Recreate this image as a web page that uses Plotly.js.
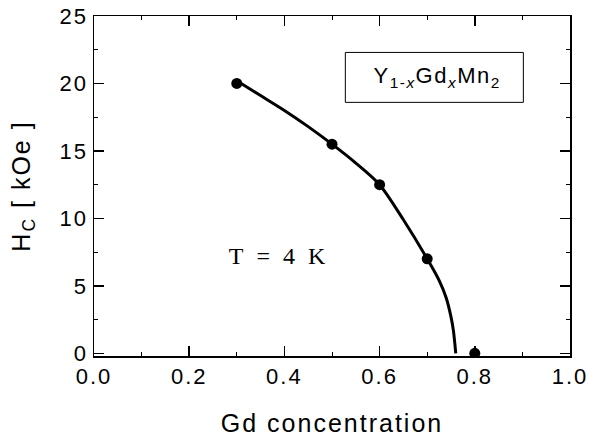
<!DOCTYPE html>
<html>
<head>
<meta charset="utf-8">
<script src="https://cdn.plot.ly/plotly-3.0.1.min.js"></script>
<style>
  html, body { margin: 0; padding: 0; background: #fff; }
  #chart { width: 589px; height: 439px; }
  .xtick text, .ytick text { letter-spacing: 2px; }
  .xtitle, .ytitle { letter-spacing: 2px; }
  .annotation[data-index="0"] .annotation-text { letter-spacing: 1.5px; }
  .annotation[data-index="1"] .annotation-text { letter-spacing: 3.5px; }
</style>
</head>
<body>
<div id="chart"></div>
<script>
// Measured coercive field of Y(1-x)Gd(x)Mn2 at 4 K
const gdConc = [0.3, 0.5, 0.6, 0.7, 0.8];
const hc = [20.0, 15.5, 12.5, 7.0, 0.0];

// Guide curve through the measurements, ending at the critical concentration
const fitConc = [0.30, 0.35, 0.40, 0.45, 0.50, 0.55, 0.60, 0.65, 0.70, 0.725, 0.74, 0.75, 0.755, 0.76];
const fitHc   = [20.2, 19.1, 18.0, 16.8, 15.5, 14.1, 12.5, 9.9, 7.0, 5.4, 4.1, 2.7, 1.7, 0.0];

const xTicks = [0.0, 0.2, 0.4, 0.6, 0.8, 1.0];
const xTickText = ['0.0', '0.2', '0.4', '0.6', '0.8', '1.0'];
const yTicks = [0, 5, 10, 15, 20, 25];

const traces = [
  {
    x: fitConc, y: fitHc, type: 'scatter', mode: 'lines',
    line: { color: '#000', width: 3, shape: 'spline', smoothing: 0.8 },
    hoverinfo: 'skip'
  },
  {
    x: gdConc, y: hc, type: 'scatter', mode: 'markers',
    marker: { color: '#000', size: 11, symbol: 'circle' }
  }
];

const sans = 'Liberation Sans, Arial, sans-serif';
const axisFont = { family: sans, size: 22, color: '#000' };

const layout = {
  width: 589, height: 439,
  margin: { l: 94, r: 19, t: 16, b: 83 },
  paper_bgcolor: '#fff', plot_bgcolor: '#fff',
  showlegend: false,
  xaxis: {
    range: [0, 1],
    tickvals: xTicks, ticktext: xTickText,
    ticks: 'inside', ticklen: 10, tickwidth: 1.5, tickcolor: '#000',
    minor: { dtick: 0.1, ticks: 'inside', ticklen: 4, tickwidth: 1, tickcolor: '#000' },
    showline: true, linecolor: '#000', linewidth: 1.5, mirror: 'ticks',
    showgrid: false, zeroline: false,
    tickfont: axisFont,
    title: { text: 'Gd concentration', font: { family: sans, size: 25, color: '#000' }, standoff: 26 }
  },
  yaxis: {
    range: [-0.2, 25],
    tickvals: yTicks,
    ticks: 'inside', ticklen: 10, tickwidth: 1.5, tickcolor: '#000',
    minor: { dtick: 2.5, ticks: 'inside', ticklen: 4, tickwidth: 1, tickcolor: '#000' },
    showline: true, linecolor: '#000', linewidth: 1.5, mirror: 'ticks',
    showgrid: false, zeroline: false,
    tickfont: axisFont,
    title: { text: 'H<sub>C</sub> [ kOe ]', font: { family: sans, size: 25, color: '#000' }, standoff: 22 }
  },
  shapes: [
    { type: 'rect', xref: 'x', yref: 'y', x0: 0.528, x1: 0.902, y0: 18.6, y1: 22.3,
      line: { color: '#000', width: 1 }, fillcolor: 'rgba(0,0,0,0)' }
  ],
  annotations: [
    { xref: 'x', yref: 'y', x: 0.72, y: 20.5, showarrow: false,
      text: 'Y<sub>1-<i>x</i></sub>Gd<sub><i>x</i></sub>Mn<sub>2</sub>',
      font: { family: sans, size: 22, color: '#000' } },
    { xref: 'x', yref: 'y', x: 0.388, y: 7.2, showarrow: false,
      text: 'T\u00a0=\u00a04\u00a0K',
      font: { family: 'Liberation Serif, Times New Roman, serif', size: 24, color: '#000' } }
  ]
};

Plotly.newPlot('chart', traces, layout, { staticPlot: true, displayModeBar: false });
</script>
</body>
</html>
